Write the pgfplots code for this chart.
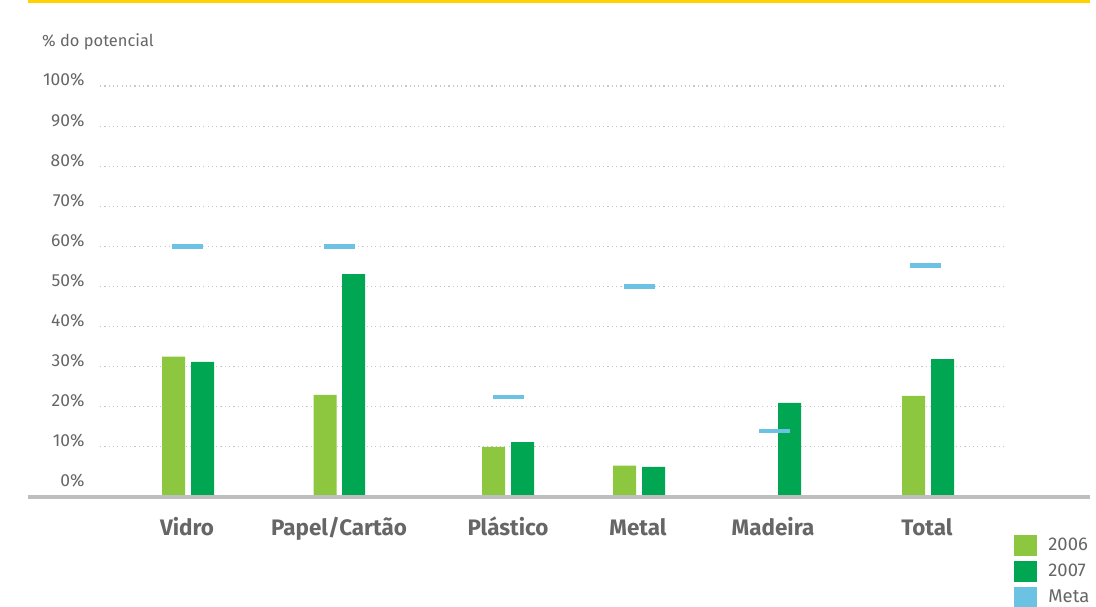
\documentclass[border=0pt]{standalone}
\usepackage{pgfplots}
\pgfplotsset{compat=1.18}
\usepackage{fontspec}
\setmainfont{Fira Sans}
\definecolor{cA}{HTML}{8DC63F}
\definecolor{cB}{HTML}{00A651}
\definecolor{cMeta}{HTML}{6BC2E3}
\definecolor{txt}{HTML}{666666}
\definecolor{base}{HTML}{BDBEC0}
\definecolor{gridc}{HTML}{C8C8C8}
\definecolor{yel}{HTML}{FFD200}
\begin{document}
\begin{tikzpicture}
\useasboundingbox (0,0) rectangle (1096bp,-607bp);
\fill[white] (0,0) rectangle (1096bp,-607bp);
\fill[yel] (28bp,0bp) rectangle (1090bp,-2.5bp);
\node[anchor=west, text=txt, font=\fontsize{16.5}{19}\selectfont, inner sep=0pt] at (42bp,-42bp) {\% do potencial};
\begin{axis}[
  at={(100bp,-497bp)}, anchor=south west,
  scale only axis, width=905bp, height=411bp,
  xmin=100, xmax=1005, ymin=-2.5, ymax=100,
  clip=false,
  axis line style={draw=none},
  major tick length=0pt,
  /pgf/number format/assume math mode=true,
  ytick={10,20,...,100},
  yticklabels={10\%,20\%,30\%,40\%,50\%,60\%,70\%,80\%,90\%,100\%},
  extra y ticks={0}, extra y tick labels={0\%},
  extra y tick style={grid=none},
  ymajorgrids,
  grid style={gridc, line width=1.2bp, dash pattern=on 1.2bp off 3.1bp},
  yticklabel style={text=txt, font=\fontsize{17.5}{20}\selectfont, anchor=east, xshift=-12bp, yshift=6bp},
  xtick={187,339,508,638,773,927},
  xticklabels={Vidro,Papel/Cartão,Plástico,Metal,Madeira,Total},
  xticklabel style={text=txt, font=\fontsize{22.5}{26}\selectfont\bfseries, anchor=base, yshift=-38bp},
  legend style={at={(1.0099,-0.092)}, anchor=north west, draw=none, fill=none,
     font=\fontsize{18.5}{21}\selectfont, text=txt, row sep=5.5bp, inner sep=0pt,
     nodes={inner sep=2pt}},
  legend cell align=left,
]
% Meta (targets)
\addplot[forget plot, only marks, mark=-, mark size=15.5bp, cMeta, mark options={line width=4.5bp}]
  coordinates {(187,60) (339,60) (508,22.5) (639,50) (774,14) (925,55.2)};
% 2006
\addplot[forget plot, ybar, bar width=23, bar shift=0pt, fill=cA, draw=none]
  coordinates {(173.5,32.5) (325,23) (493.5,10) (624.5,5.3) (913.5,22.7)};
\addplot[forget plot, ybar, bar width=23, bar shift=0pt, fill=cA, draw=none]
  coordinates {(173.5,-2.5) (325,-2.5) (493.5,-2.5) (624.5,-2.5) (913.5,-2.5)};
% 2007
\addplot[forget plot, ybar, bar width=23, bar shift=0pt, fill=cB, draw=none]
  coordinates {(202.5,31.2) (353.5,53.1) (522.5,11.2) (653.5,5) (789.5,21) (942.5,31.9)};
\addplot[forget plot, ybar, bar width=23, bar shift=0pt, fill=cB, draw=none]
  coordinates {(202.5,-2.5) (353.5,-2.5) (522.5,-2.5) (653.5,-2.5) (789.5,-2.5) (942.5,-2.5)};
% baseline
\addplot[forget plot, base, line width=4bp] coordinates {(28,-2.5) (1090,-2.5)};
\addlegendimage{legend image code/.code={\fill[cA] (0bp,-10bp) rectangle (22bp,10bp); \path[draw=none,fill=none] (0bp,0bp) -- (32bp,0bp);}}
\addlegendentry{2006}
\addlegendimage{legend image code/.code={\fill[cB] (0bp,-10bp) rectangle (22bp,10bp); \path[draw=none,fill=none] (0bp,0bp) -- (32bp,0bp);}}
\addlegendentry{2007}
\addlegendimage{legend image code/.code={\fill[cMeta] (0bp,-10bp) rectangle (22bp,10bp); \path[draw=none,fill=none] (0bp,0bp) -- (32bp,0bp);}}
\addlegendentry{Meta}
\end{axis}
\end{tikzpicture}
\end{document}
